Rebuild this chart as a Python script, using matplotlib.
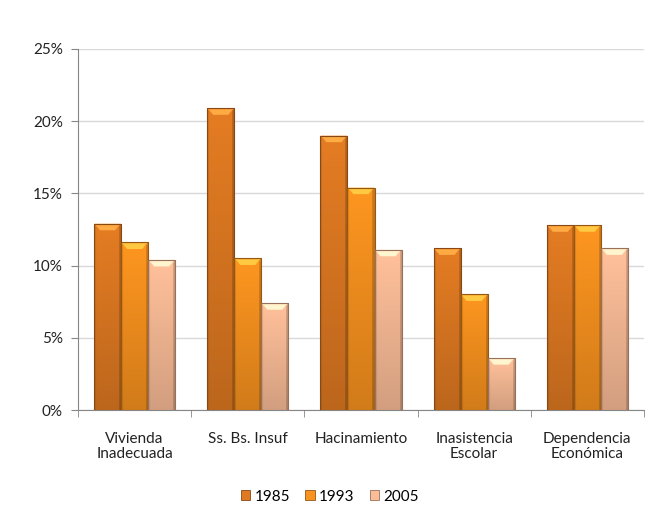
import matplotlib.pyplot as plt
import numpy as np
from matplotlib.patches import Polygon, Patch
from matplotlib.ticker import PercentFormatter, FixedLocator
from matplotlib import colors

plt.rcParams['font.family'] = ['Lato', 'DejaVu Sans']

# Datos: porcentaje de hogares por indicador NBI
categories = ['Vivienda\nInadecuada', 'Ss. Bs. Insuf', 'Hacinamiento',
              'Inasistencia\nEscolar', 'Dependencia\nEconómica']
years = ['1985', '1993', '2005']
v1985 = [12.9, 20.9, 19.0, 11.2, 12.8]
v1993 = [11.6, 10.5, 15.4, 8.0, 12.8]
v2005 = [10.4, 7.4, 11.1, 3.6, 11.2]
series = [v1985, v1993, v2005]
base_colors = ['#E07A22', '#F9931F', '#FBBD98']

fig = plt.figure(figsize=(6.51, 5.19), dpi=100)
ax = fig.add_axes([0.1198, 0.210, 0.8694, 0.6956])

x = np.arange(len(categories))
w = 0.239


def shade_bar(ax, patch, color):
    """Paint a bevelled gradient inside one bar."""
    bx, by = patch.get_x(), patch.get_y()
    bw, bh = patch.get_width(), patch.get_height()
    rgb = np.array(colors.to_rgb(color))
    ny, nx = 60, 40
    yy = np.linspace(1, 0, ny)[:, None]          # 1 = top
    xx = np.linspace(0, 1, nx)[None, :]
    vert = 0.84 + 0.18 * yy
    edge = np.ones_like(xx)
    edge[:, :3] = 0.93
    edge[:, -4:] = 0.80
    fac = vert * edge
    img = np.clip(rgb[None, None, :] * fac[:, :, None], 0, 1)
    im = ax.imshow(img, extent=(bx, bx + bw, by, by + bh), aspect='auto',
                   origin='upper', zorder=3, interpolation='bilinear')
    im.set_clip_path(patch)
    # bevel on top of the bar
    dx = bw * 0.22
    dy = 0.45
    top = by + bh
    light = np.clip(rgb * 1.12 + 0.08, 0, 1)
    ax.add_patch(Polygon([(bx, top), (bx + bw, top), (bx + bw - dx, top - dy),
                          (bx + dx, top - dy)], closed=True,
                         facecolor=light, edgecolor='none', zorder=4))
    ax.add_patch(Polygon([(bx + dx * 0.5, top - dy * 0.25), (bx + bw - dx * 0.5, top - dy * 0.25),
                          (bx + bw - dx, top - dy), (bx + dx, top - dy)], closed=True,
                         facecolor=np.clip(light * 1.08 + 0.05, 0, 1), edgecolor='none',
                         zorder=4, alpha=0.6))
    # thin dark outline
    ax.add_patch(plt.Rectangle((bx, by), bw, bh, facecolor='none',
                               edgecolor=rgb * 0.6, linewidth=0.8, zorder=5))


for i, (vals, col) in enumerate(zip(series, base_colors)):
    bars = ax.bar(x + (i - 1) * w, vals, width=w, color=col, zorder=2)
    for p in bars.patches:
        shade_bar(ax, p, col)

ax.set_xlim(-0.5, len(categories) - 0.5)
ax.set_ylim(0, 25)
ax.set_yticks(np.arange(0, 26, 5))
ax.yaxis.set_major_formatter(PercentFormatter(xmax=100, decimals=0))
ax.grid(axis='y', color='#D9D9D9', linewidth=1, zorder=0)
ax.set_axisbelow(True)

ax.set_xticks(x)
ax.set_xticklabels(categories, fontsize=11, color='#222222', linespacing=1.1)
ax.xaxis.set_minor_locator(FixedLocator(np.arange(-0.5, len(categories), 1.0)))
ax.tick_params(axis='x', which='major', length=0, pad=16)
ax.tick_params(axis='x', which='minor', length=5, color='#868686', direction='out')
ax.tick_params(axis='y', length=5, color='#868686', labelsize=11,
               labelcolor='#222222', pad=6)

for s in ['top', 'right']:
    ax.spines[s].set_visible(False)
for s in ['left', 'bottom']:
    ax.spines[s].set_color('#868686')

handles = [Patch(facecolor=c, edgecolor=np.array(colors.to_rgb(c)) * 0.6, linewidth=0.6)
           for c in base_colors]
fig.legend(handles, years, loc='center', bbox_to_anchor=(0.507, 0.043), ncol=3,
           frameon=False, fontsize=11, handlelength=0.6, handleheight=0.6,
           handletextpad=0.3, columnspacing=1.0)

fig.savefig('out.png', dpi=100)
